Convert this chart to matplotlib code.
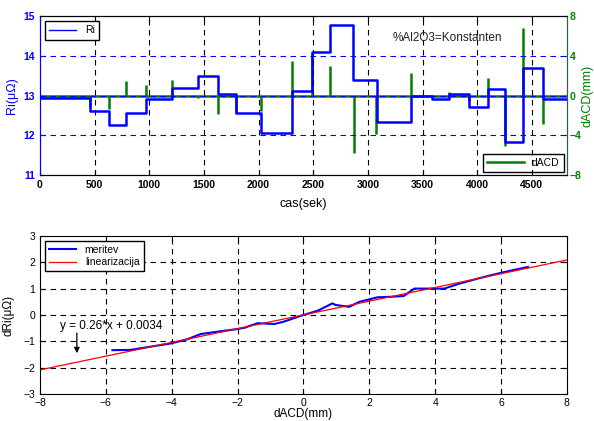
import numpy as np
import matplotlib.pyplot as plt

plt.rcParams['font.family'] = ['Liberation Sans', 'DejaVu Sans']

# step edges (s) and Ri levels (uOhm) of the measured signal
t_edges = [0, 460, 635, 784, 968, 1205, 1450, 1625, 1795, 2025, 2308, 2485,
           2655, 2867, 3079, 3394, 3585, 3745, 3924, 4100, 4252, 4418, 4606, 4820]
ri_levels = [12.93, 12.61, 12.26, 12.55, 12.92, 13.18, 13.49, 13.03, 12.56,
             12.06, 13.11, 14.09, 14.78, 13.38, 12.33, 12.98, 12.92, 13.05,
             12.71, 13.17, 11.83, 13.69, 12.92]

# dACD spikes (mm)
spike_t = [460, 635, 784, 968, 1205, 1450, 1625, 1795, 2025, 2308, 2488, 2652,
           2873, 3076, 3394, 3585, 3742, 3924, 4100, 4252, 4418, 4606]
spike_v = [-1.13, -1.4, 1.43, 1.03, 1.53, -0.3, -1.9, -1.8, -1.57, 3.43, 4.17,
           3.0, -5.8, -3.9, 2.27, -0.2, 0.33, -0.57, 1.77, -5.07, 6.83, -2.9]

# bottom plot: measured dRi vs dACD
meas_x = [-5.8, -5.25, -4.0, -3.53, -3.12, -2.6, -2.0, -1.75, -1.7, -1.39, -0.88,
          -0.59, -0.08, 0.0, 0.43, 0.88, 0.98, 1.39, 1.7, 2.25, 2.66, 3.05,
          3.37, 3.78, 4.28, 4.69, 5.3, 6.01, 6.82]
meas_y = [-1.33, -1.32, -1.07, -0.92, -0.72, -0.63, -0.53, -0.47, -0.44, -0.31,
          -0.34, -0.25, -0.03, 0.0, 0.16, 0.44, 0.38, 0.31, 0.5, 0.67, 0.69,
          0.72, 1.0, 1.0, 1.0, 1.17, 1.38, 1.6, 1.82]
lin_x = [-8, 8]
lin_y = [-2.0766, 2.0834]

blue = '#0000ff'
green = '#008000'
dash = (0, (5, 4))

fig = plt.figure(figsize=(5.94, 4.21), dpi=100)

# ---- top plot
ax1 = fig.add_axes([0.0673, 0.5843, 0.887, 0.3777])
ax2 = ax1.twinx()
ax1.set_zorder(ax2.get_zorder() + 1)
ax1.patch.set_visible(False)

for t in range(500, 4600, 500):
    ax1.axvline(t, color='k', linestyle=dash, lw=0.8, zorder=0)
for yv in [12, 13, 14]:
    ax1.axhline(yv, color=blue, linestyle=dash, lw=0.8, zorder=0)

l1, = ax1.plot(t_edges, ri_levels + [ri_levels[-1]], drawstyle='steps-post',
               color=blue, lw=1.8)
ax1.set_xlim(0, 4820)
ax1.set_ylim(11, 15)
ax1.set_yticks([11, 12, 13, 14, 15])
ax1.set_xticks(range(0, 5000, 500))
ax1.set_ylabel('Ri(\u03bc\u03a9)', color=blue, fontsize=9, labelpad=4)
ax1.set_xlabel('cas(sek)', fontsize=9, labelpad=6)
ax1.tick_params(axis='y', colors=blue, direction='in', labelsize=7.5)
ax1.tick_params(axis='x', direction='in', labelsize=7.5, top=True)
for lab in ax1.get_xticklabels() + ax1.get_yticklabels():
    lab.set_fontweight('bold')

ax2.vlines(spike_t, 0, spike_v, color=green, lw=1.8)
l2, = ax2.plot([0, 4820], [0, 0], color=green, lw=1.8)
ax2.set_ylim(-8, 8)
ax2.set_yticks([-8, -4, 0, 4, 8])
ax2.set_ylabel('dACD(mm)', color=green, fontsize=9, labelpad=0)
ax2.tick_params(axis='y', colors=green, direction='in', labelsize=7.5, pad=2)
for lab in ax2.get_yticklabels():
    lab.set_fontweight('bold')
ax2.spines['right'].set_color('#2e5e4e')
ax2.spines['left'].set_color(blue)
ax1.spines['left'].set_color(blue)
ax1.spines['right'].set_color('#2e5e4e')

ax1.text(3727, 14.45, '%Al2O3=Konstanten', fontsize=8.5, color='#222222',
         ha='center', va='center')

leg1 = ax1.legend([l1], ['Ri'], loc='upper left', fontsize=7.5, fancybox=False,
                  edgecolor='k', framealpha=1, borderaxespad=0.5, handlelength=2.6)
leg1.get_frame().set_linewidth(1.0)
leg1.get_lines()[0].set_linewidth(1.0)
leg2 = ax2.legend([l2], ['dACD'], loc='lower right', fontsize=7.5, fancybox=False,
                  edgecolor='k', framealpha=1, borderaxespad=0.3, handlelength=3.5)
leg2.get_frame().set_linewidth(1.0)

# ---- bottom plot
ax3 = fig.add_axes([0.0673, 0.0634, 0.887, 0.3767])
for xv in range(-6, 8, 2):
    ax3.axvline(xv, color='k', linestyle=dash, lw=0.8, zorder=0)
for yv in range(-2, 3):
    ax3.axhline(yv, color='k', linestyle=dash, lw=0.8, zorder=0)
l3, = ax3.plot(meas_x, meas_y, color=blue, lw=1.5)
l4, = ax3.plot(lin_x, lin_y, color='red', lw=0.9)
ax3.set_xlim(-8, 8)
ax3.set_ylim(-3, 3)
ax3.set_xticks(range(-8, 10, 2))
ax3.set_yticks(range(-3, 4))
ax3.tick_params(direction='in', labelsize=7.5, top=True, right=True)
ax3.tick_params(axis='x', pad=2.5)
ax3.set_ylabel('dRi(\u03bc\u03a9)', fontsize=8.5, labelpad=6)
ax3.set_xlabel('dACD(mm)', fontsize=8.5, labelpad=0)

ax3.text(-7.39, -0.42, 'y = 0.26*x + 0.0034', fontsize=8.5, va='center')
ax3.annotate('', xy=(-6.88, -1.55), xytext=(-6.88, -0.58),
             arrowprops=dict(arrowstyle='-|>', color='k', lw=0.9,
                             mutation_scale=8))

leg3 = ax3.legend([l3, l4], ['meritev', 'linearizacija'], loc='upper left',
                  fontsize=7.5, fancybox=False, edgecolor='k', framealpha=1,
                  borderaxespad=0.5, handlelength=2.6, labelspacing=0.2)
leg3.get_frame().set_linewidth(1.0)

fig.savefig('out.png', dpi=100)
